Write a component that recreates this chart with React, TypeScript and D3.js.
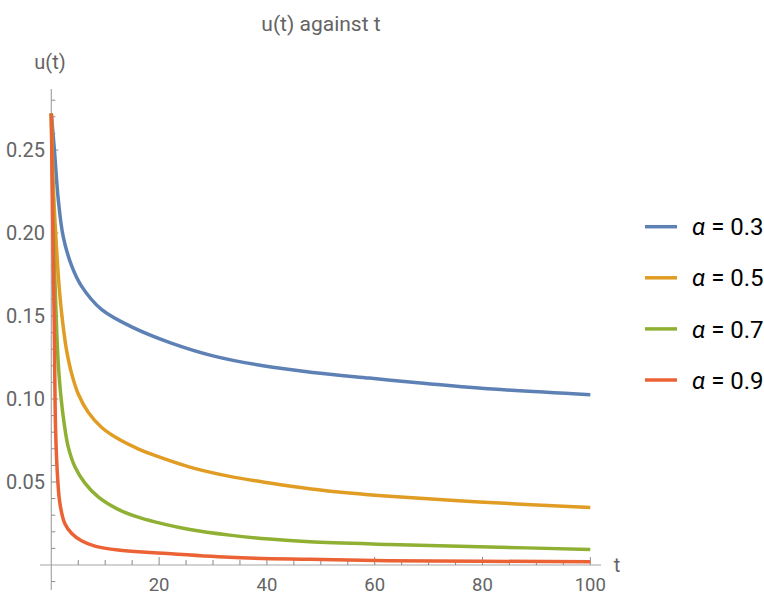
import React from "react";
import * as d3 from "d3";

const W = 764;
const H = 596;

const alphaValues = ["0.3", "0.5", "0.7", "0.9"];
const colors = ["#5E81B5", "#E19C24", "#8FB032", "#EB6235"];

const yTickValues = [0.05, 0.1, 0.15, 0.2, 0.25];
const yTickLabels = ["0.05", "0.10", "0.15", "0.20", "0.25"];
const xTickValues = [20, 40, 60, 80, 100];
const xTickLabels = ["20", "40", "60", "80", "100"];

// [t, u(t)]
const seriesA03: [number, number][] = [
  [0, 0.272], [0.6, 0.249], [1.3, 0.22], [2.2, 0.198], [3.8, 0.18], [5.6, 0.168],
  [9.3, 0.154], [15.2, 0.143], [22, 0.134], [30, 0.126], [39.3, 0.12], [48.5, 0.116],
  [59, 0.1126], [69.5, 0.1094], [81.9, 0.106], [100, 0.1026],
];
const seriesA05: [number, number][] = [
  [0, 0.272], [0.3, 0.235], [0.7, 0.206], [1.6, 0.162], [2.35, 0.14], [2.85, 0.129],
  [3.8, 0.115], [5.0, 0.103], [6.85, 0.092], [9.3, 0.083], [12.4, 0.076], [16.1, 0.07],
  [19.2, 0.066], [25.7, 0.059], [33.1, 0.0534], [40.5, 0.0494], [47.9, 0.046],
  [55.3, 0.0434], [62.7, 0.0414], [79.4, 0.038], [100, 0.0346],
];
const seriesA07: [number, number][] = [
  [0, 0.272], [0.4, 0.2], [1.0, 0.141], [1.3, 0.121], [1.8, 0.101], [2.4, 0.085],
  [3.15, 0.071], [4.4, 0.059], [6.2, 0.0495], [8.7, 0.041], [12.4, 0.0335], [16.1, 0.0288],
  [19.2, 0.026], [25.7, 0.0214], [33.1, 0.018], [40.5, 0.0156], [47.9, 0.014],
  [62.7, 0.0124], [79.4, 0.011], [100, 0.0094],
];
const seriesA09: [number, number][] = [
  [0, 0.272], [0.25, 0.21], [0.56, 0.141], [0.8, 0.081], [1.2, 0.051], [1.6, 0.037],
  [2.5, 0.025], [3.8, 0.019], [5.6, 0.0146], [8.1, 0.0114], [12.4, 0.009], [19.2, 0.0074],
  [33.1, 0.0046], [47.9, 0.0034], [62.7, 0.0026], [100, 0.002],
];
const allSeries = [seriesA03, seriesA05, seriesA07, seriesA09];

const FONT = "Roboto, 'Liberation Sans', sans-serif";

export default function App() {
  const x = d3.scaleLinear().domain([0, 100]).range([51.3, 590.3]);
  const y = d3.scaleLinear().domain([0, 0.25]).range([565, 150]);

  const line = d3
    .line<[number, number]>()
    .x((d) => x(d[0]))
    .y((d) => y(d[1]))
    .curve(d3.curveCatmullRom.alpha(0.5));

  const xMinor = d3.range(5, 101, 5).filter((v) => v % 20 !== 0);
  const yMinor = d3
    .range(-1, 29, 1)
    .map((v) => v / 100)
    .filter((v) => Math.round(v * 100) % 5 !== 0);

  const axisColor = "#a6a6a6";
  const tickColor = "#8a8a8a";
  const labelColor = "#646464";

  return (
    <svg
      width={W}
      height={H}
      style={{ position: "absolute", left: 0, top: 0, background: "#fff" }}
      fontFamily={FONT}
    >
      {/* title */}
      <text x={321} y={31} fontSize={21} fill={labelColor} textAnchor="middle">
        u(t) against t
      </text>
      {/* axis labels */}
      <text x={50} y={69} fontSize={20} fill={labelColor} textAnchor="middle">
        u(t)
      </text>
      <text x={617} y={572} fontSize={20} fill={labelColor} textAnchor="middle">
        t
      </text>

      {/* axes */}
      <line x1={x(-2.1)} x2={x(102)} y1={y(0)} y2={y(0)} stroke={axisColor} strokeWidth={1.2} />
      <line x1={x(0)} x2={x(0)} y1={y(0.2867)} y2={y(-0.015)} stroke={axisColor} strokeWidth={1.2} />

      {/* x ticks */}
      {xMinor.map((v) => (
        <line key={"xm" + v} x1={x(v)} x2={x(v)} y1={y(0)} y2={y(0) - 5} stroke={tickColor} strokeWidth={1} />
      ))}
      {xTickValues.map((v, i) => (
        <g key={"xt" + v}>
          <line x1={x(v)} x2={x(v)} y1={y(0)} y2={y(0) - 8} stroke={tickColor} strokeWidth={1} />
          <text x={x(v)} y={591} fontSize={18.5} fill={labelColor} textAnchor="middle">
            {xTickLabels[i]}
          </text>
        </g>
      ))}

      {/* y ticks */}
      {yMinor.map((v) => (
        <line key={"ym" + v} x1={x(0)} x2={x(0) + 4} y1={y(v)} y2={y(v)} stroke={tickColor} strokeWidth={1} />
      ))}
      {yTickValues.map((v, i) => (
        <g key={"yt" + v}>
          <line x1={x(0)} x2={x(0) + 7} y1={y(v)} y2={y(v)} stroke={tickColor} strokeWidth={1} />
          <text x={45} y={y(v)} dy="0.35em" fontSize={20} fill={labelColor} textAnchor="end">
            {yTickLabels[i]}
          </text>
        </g>
      ))}

      {/* curves */}
      {allSeries.map((s, i) => (
        <path key={"c" + i} d={line(s) || ""} fill="none" stroke={colors[i]} strokeWidth={3.5} />
      ))}

      {/* legend */}
      {alphaValues.map((a, i) => {
        const ly = 226.7 + i * 51.1;
        return (
          <g key={"lg" + i}>
            <line x1={645} x2={677} y1={ly} y2={ly} stroke={colors[i]} strokeWidth={3.5} />
            <text x={692} y={ly} dy="0.36em" fontSize={24} fill="#000">
              <tspan fontStyle="italic">α</tspan>
              <tspan>{" = " + a}</tspan>
            </text>
          </g>
        );
      })}
    </svg>
  );
}
